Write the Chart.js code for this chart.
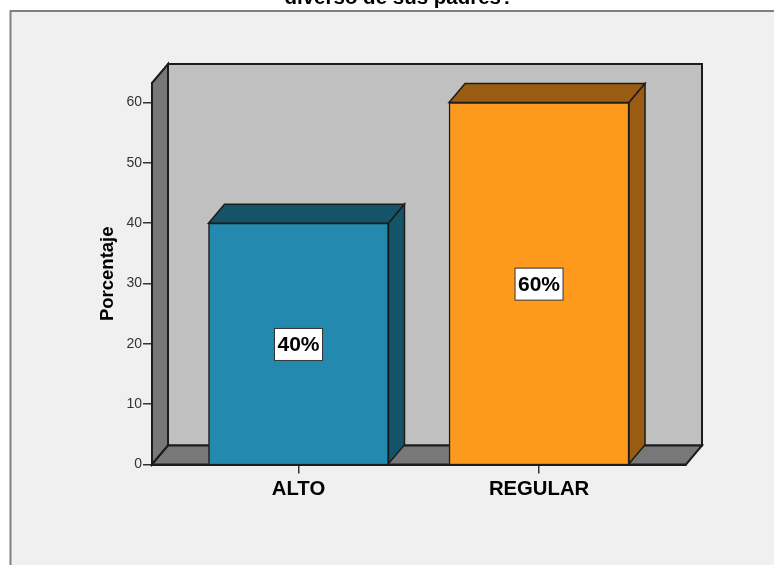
<!DOCTYPE html>
<html>
<head>
<meta charset="utf-8">
<title>Porcentaje</title>
<script src="https://cdn.jsdelivr.net/npm/chart.js@4/dist/chart.umd.min.js"></script>
<style>
  html, body { margin: 0; padding: 0; background: #fff; overflow: hidden; }
  canvas { display: block; }
</style>
</head>
<body>
<canvas id="chart" width="774" height="565"></canvas>
<script>
const categories = ['ALTO', 'REGULAR'];
const porcentajes = [40, 60];
const barLabels = ['40%', '60%'];
const yTicks = [0, 10, 20, 30, 40, 50, 60];
const frontColors = ['#2389ae', '#fd9a1e'];
const shadeColors = ['#155468', '#995c12'];
const titleText = 'diverso de sus padres?';

const FONT = '"Liberation Sans", Arial, sans-serif';
const DX = 16, DY = 19;   // depth of the fake 3d box
const LINE = '#1c1c1c';

function poly(ctx, pts, fill, stroke, lw) {
  ctx.beginPath();
  pts.forEach((p, i) => i ? ctx.lineTo(p[0], p[1]) : ctx.moveTo(p[0], p[1]));
  ctx.closePath();
  ctx.fillStyle = fill;
  ctx.fill();
  ctx.strokeStyle = stroke;
  ctx.lineWidth = lw;
  ctx.lineJoin = 'miter';
  ctx.stroke();
}

// page background, frame and the clipped title line
const frame = {
  id: 'frame',
  beforeDraw(chart) {
    const ctx = chart.ctx;
    ctx.save();
    ctx.fillStyle = '#f0f0f0';
    ctx.fillRect(10, 11, 764, 554);
    ctx.fillStyle = '#808080';
    ctx.fillRect(10, 10, 764, 2);
    ctx.fillRect(9.5, 10, 2, 555);
    ctx.fillStyle = '#000';
    ctx.font = 'bold 20.5px ' + FONT;
    ctx.textAlign = 'center';
    ctx.textBaseline = 'alphabetic';
    ctx.fillText(titleText, 399, 4);
    ctx.restore();
  }
};

// walls, floor and the top and side faces of the bars
const box3d = {
  id: 'box3d',
  beforeDatasetsDraw(chart) {
    const ctx = chart.ctx;
    const a = chart.chartArea;
    ctx.save();
    poly(ctx, [[a.left + DX, a.top - DY], [a.right + DX, a.top - DY], [a.right + DX, a.bottom - DY], [a.left + DX, a.bottom - DY]], '#c0c0c0', LINE, 2);
    poly(ctx, [[a.left, a.top], [a.left + DX, a.top - DY], [a.left + DX, a.bottom - DY], [a.left, a.bottom]], '#787878', LINE, 2);
    poly(ctx, [[a.left, a.bottom], [a.left + DX, a.bottom - DY], [a.right + DX, a.bottom - DY], [a.right, a.bottom]], '#787878', LINE, 2);
    chart.getDatasetMeta(0).data.forEach((bar, i) => {
      const l = bar.x - bar.width / 2, r = bar.x + bar.width / 2;
      poly(ctx, [[l, bar.y], [l + DX, bar.y - DY], [r + DX, bar.y - DY], [r, bar.y]], shadeColors[i], LINE, 1.5);
      poly(ctx, [[r, bar.y], [r + DX, bar.y - DY], [r + DX, bar.base - DY], [r, bar.base]], shadeColors[i], LINE, 1.5);
    });
    ctx.restore();
  },
  afterDatasetsDraw(chart) {
    const ctx = chart.ctx;
    ctx.save();
    ctx.font = 'bold 21px ' + FONT;
    ctx.textAlign = 'center';
    ctx.textBaseline = 'middle';
    chart.getDatasetMeta(0).data.forEach((bar, i) => {
      const cy = (bar.y + bar.base) / 2 + 1;
      ctx.fillStyle = '#fff';
      ctx.fillRect(bar.x - 24, cy - 16, 48, 32);
      ctx.strokeStyle = '#333';
      ctx.lineWidth = 1;
      ctx.strokeRect(bar.x - 24, cy - 16, 48, 32);
      ctx.fillStyle = '#000';
      ctx.fillText(barLabels[i], bar.x, cy + 1);
    });
    ctx.restore();
  }
};

new Chart(document.getElementById('chart'), {
  type: 'bar',
  data: {
    datasets: [{
      label: 'Porcentaje',
      data: porcentajes.map((v, i) => ({ x: i, y: v })),
      backgroundColor: frontColors,
      borderColor: LINE,
      borderWidth: 1.5,
      barThickness: 180
    }]
  },
  options: {
    responsive: false,
    animation: false,
    layout: { padding: { top: 83, right: 88, left: 0, bottom: 0 } },
    plugins: { legend: { display: false }, tooltip: { enabled: false } },
    scales: {
      x: {
        type: 'linear',
        offset: false,
        min: -0.609,
        max: 1.611,
        afterBuildTicks(axis) { axis.ticks = categories.map((c, i) => ({ value: i })); },
        afterFit(axis) { axis.height = 100.5; },
        border: { color: LINE, width: 2 },
        grid: { offset: false, drawOnChartArea: false, drawTicks: true, tickLength: 9, color: '#333', lineWidth: 1.5 },
        ticks: {
          callback: v => categories[v],
          autoSkip: false,
          maxRotation: 0,
          padding: 4,
          color: '#000',
          font: { family: FONT, size: 20.3, weight: 'bold' }
        }
      },
      y: {
        min: 0,
        max: 63.23,
        afterBuildTicks(axis) { axis.ticks = yTicks.map(v => ({ value: v })); },
        afterFit(axis) { axis.width = 152; },
        border: { color: LINE, width: 2 },
        grid: { drawOnChartArea: false, drawTicks: true, tickLength: 9, color: '#333', lineWidth: 1.5 },
        ticks: {
          padding: 1,
          color: '#333',
          font: { family: FONT, size: 14 }
        },
        title: {
          display: true,
          text: 'Porcentaje',
          color: '#000',
          font: { family: FONT, size: 18.5, weight: 'bold' },
          padding: { top: 97, bottom: 0 }
        }
      }
    }
  },
  plugins: [frame, box3d]
});
</script>
</body>
</html>
